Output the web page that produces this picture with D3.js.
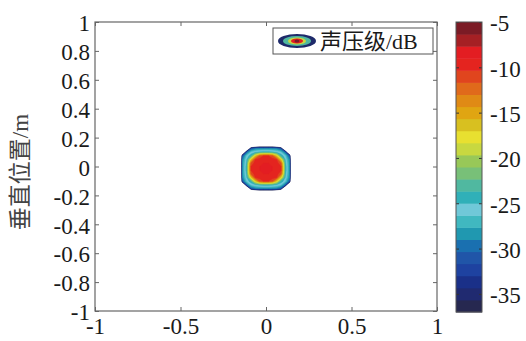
<!DOCTYPE html>
<html>
<head>
<meta charset="utf-8">
<script src="https://cdn.jsdelivr.net/npm/d3@7"></script>
<style>
  body { margin: 0; background: #fff; }
</style>
</head>
<body>
<script>
// sound pressure level (dB), cell centres of a 0.025 m grid around the source
const gridX = [-0.1625, -0.1375, -0.1125, -0.0875, -0.0625, -0.0375, -0.0125,
  0.0125, 0.0375, 0.0625, 0.0875, 0.1125, 0.1375, 0.1625];
const gridY = [0.1625, 0.1375, 0.1125, 0.0875, 0.0625, 0.0375, 0.0125,
  -0.0125, -0.0375, -0.0625, -0.0875, -0.1125, -0.1375, -0.1625];
const splRows = [
  [-70, -70, -70, -52, -47, -45, -45, -45, -45, -47, -52, -70, -70, -70],
  [-70, -70, -48, -31, -29, -28.5, -28.5, -28.5, -28.5, -29, -31, -48, -70, -70],
  [-70, -48, -30, -26, -25, -24.5, -24, -24, -24.5, -25, -26, -30, -48, -70],
  [-70, -31, -26, -24, -17, -11.5, -10.2, -10.2, -11.5, -17, -24, -26, -31, -70],
  [-70, -29, -25, -17, -10.2, -9.7, -9.4, -9.4, -9.7, -10.2, -17, -25, -29, -70],
  [-70, -28.5, -24.5, -11.5, -9.7, -9.2, -9.0, -9.0, -9.2, -9.7, -11.5, -24.5, -28.5, -70],
  [-70, -28.5, -24, -10.2, -9.4, -9.0, -8.8, -8.8, -9.0, -9.4, -10.2, -24, -28.5, -70],
  [-70, -28.5, -24, -10.2, -9.4, -9.0, -8.8, -8.8, -9.0, -9.4, -10.2, -24, -28.5, -70],
  [-70, -28.5, -24.5, -11.5, -9.7, -9.2, -9.0, -9.0, -9.2, -9.7, -11.5, -24.5, -28.5, -70],
  [-70, -29, -25, -17, -10.2, -9.7, -9.4, -9.4, -9.7, -10.2, -17, -25, -29, -70],
  [-70, -31, -26, -24, -17, -11.5, -10.2, -10.2, -11.5, -17, -24, -26, -31, -70],
  [-70, -48, -30, -26, -25, -24.5, -24, -24, -24.5, -25, -26, -30, -48, -70],
  [-70, -70, -48, -31, -29, -28.5, -28.5, -28.5, -28.5, -29, -31, -48, -70, -70],
  [-70, -70, -70, -52, -47, -45, -45, -45, -45, -47, -52, -70, -70, -70]
];
const floorDb = -80; // everything else is below the colour range

const xTicks = [-1, -0.5, 0, 0.5, 1];
const yTicks = [-1, -0.8, -0.6, -0.4, -0.2, 0, 0.2, 0.4, 0.6, 0.8, 1];
const cbTicks = [-35, -30, -25, -20, -15, -10, -5];
const cbDomain = [-37, -5];

// colour bands, low -> high
const bandColors = [
  '#262850', '#202a70', '#1a3088', '#1e42a0', '#2055a8', '#1a70b0',
  '#2098b0', '#40b8c0', '#70c8d8', '#30b0b8', '#50b8a0', '#78c078',
  '#98c858', '#c8d840', '#e8e030', '#d8c020', '#e0a512', '#e08a15',
  '#e06a1b', '#e0451e', '#e4241f', '#e31d22', '#a52024', '#7b1b25'
];

const serif = '"Liberation Serif", "Times New Roman", serif';
const cjk = '"Liberation Serif", "Noto Sans CJK SC", serif';

const W = 526, H = 341;
const plot = { left: 95, right: 437, top: 22, bottom: 311 };
const cbBox = { left: 456, right: 482, top: 22, bottom: 312 };

const svg = d3.select('body').append('svg')
  .attr('width', W)
  .attr('height', H);

const x = d3.scaleLinear().domain([-1, 1]).range([plot.left, plot.right]);
const y = d3.scaleLinear().domain([-1, 1]).range([plot.bottom, plot.top]);

// full grid of cell centres over the plot
const step = 0.025;
const n = 80;
const values = new Array(n * n);
for (let j = 0; j < n; j++) {
  const gy = 1 - step / 2 - j * step;
  const r = gridY.findIndex(v => Math.abs(v - gy) < 1e-6);
  for (let i = 0; i < n; i++) {
    const gx = -1 + step / 2 + i * step;
    const c = gridX.findIndex(v => Math.abs(v - gx) < 1e-6);
    values[j * n + i] = (r >= 0 && c >= 0) ? splRows[r][c] : floorDb;
  }
}

const color = d3.scaleQuantize().domain(cbDomain).range(bandColors);
const thresholds = [cbDomain[0]].concat(color.thresholds());

const contours = d3.contours()
  .size([n, n])
  .thresholds(thresholds)(values);

const gxs = d3.scaleLinear().domain([0, n]).range([x(-1), x(1)]);
const gys = d3.scaleLinear().domain([0, n]).range([y(1), y(-1)]);
const path = d3.geoPath(d3.geoTransform({
  point: function(px, py) { this.stream.point(gxs(px), gys(py)); }
}));

svg.append('clipPath').attr('id', 'clip')
  .append('rect')
  .attr('x', plot.left).attr('y', plot.top)
  .attr('width', plot.right - plot.left)
  .attr('height', plot.bottom - plot.top);

svg.append('g')
  .attr('clip-path', 'url(#clip)')
  .attr('transform', 'translate(0,2)')
  .selectAll('path')
  .data(contours)
  .enter().append('path')
  .attr('d', path)
  .attr('fill', (d, i) => bandColors[i])
  .attr('stroke', (d, i) => bandColors[i])
  .attr('stroke-width', 0.3);

// axes, ticks pointing inward
const axisColor = '#666';
function styleAxis(g) {
  g.attr('font-family', serif).attr('font-size', 23);
  g.select('.domain').remove();
  g.selectAll('.tick line').attr('stroke', axisColor);
  g.selectAll('.tick text').attr('fill', '#1a1a1a');
}

svg.append('g')
  .attr('transform', `translate(0,${plot.bottom})`)
  .call(d3.axisBottom(x).tickValues(xTicks).tickSize(-4).tickPadding(5)
    .tickFormat(d => String(d)))
  .call(styleAxis)
  .selectAll('.tick text').attr('dy', '0.78em');

svg.append('g')
  .attr('transform', `translate(${plot.left},0)`)
  .call(d3.axisLeft(y).tickValues(yTicks).tickSize(-4).tickPadding(5)
    .tickFormat(d => String(d)))
  .call(styleAxis)
  .selectAll('.tick text').attr('dy', '0.38em');

svg.append('g')
  .attr('transform', `translate(0,${plot.top})`)
  .call(d3.axisTop(x).tickValues(xTicks).tickSize(-4).tickFormat(''))
  .call(styleAxis);

svg.append('g')
  .attr('transform', `translate(${plot.right},0)`)
  .call(d3.axisRight(y).tickValues(yTicks).tickSize(-4).tickFormat(''))
  .call(styleAxis);

svg.append('rect')
  .attr('x', plot.left).attr('y', plot.top)
  .attr('width', plot.right - plot.left)
  .attr('height', plot.bottom - plot.top)
  .attr('fill', 'none')
  .attr('stroke', axisColor)
  .attr('stroke-width', 1.2);

// y label
svg.append('text')
  .attr('transform', 'translate(28,172) rotate(-90)')
  .attr('text-anchor', 'middle')
  .attr('font-family', cjk)
  .attr('font-size', 23)
  .attr('fill', '#444')
  .text('垂直位置/m');

// legend
const lg = svg.append('g');
lg.append('rect')
  .attr('x', 273).attr('y', 28)
  .attr('width', 160).attr('height', 26)
  .attr('fill', '#fff')
  .attr('stroke', '#555')
  .attr('stroke-width', 1);
const icon = [[19, 7, '#1e2a6a'], [14, 5, '#50b8a0'], [9, 3.6, '#c8d840'], [6, 2.6, '#e31d22'], [2.5, 1.5, '#7b1b25']];
lg.selectAll('ellipse')
  .data(icon)
  .enter().append('ellipse')
  .attr('cx', 297).attr('cy', 41)
  .attr('rx', d => d[0]).attr('ry', d => d[1])
  .attr('fill', d => d[2]);
lg.append('text')
  .attr('x', 320).attr('y', 49)
  .attr('font-family', cjk)
  .attr('font-size', 22)
  .attr('fill', '#1a1a1a')
  .text('声压级/dB');

// colour bar
const cb = d3.scaleLinear().domain(cbDomain).range([cbBox.bottom, cbBox.top]);
const bands = thresholds.map((t, i) => [t, i + 1 < thresholds.length ? thresholds[i + 1] : cbDomain[1]]);
svg.append('g')
  .selectAll('rect')
  .data(bands)
  .enter().append('rect')
  .attr('x', cbBox.left)
  .attr('y', d => cb(d[1]))
  .attr('width', cbBox.right - cbBox.left)
  .attr('height', d => cb(d[0]) - cb(d[1]) + 0.5)
  .attr('fill', (d, i) => bandColors[i]);

svg.append('g')
  .attr('transform', `translate(${cbBox.right},0)`)
  .call(d3.axisRight(cb).tickValues(cbTicks).tickSize(-3).tickPadding(8)
    .tickFormat(d => String(d)))
  .call(styleAxis)
  .call(g => g.selectAll('.tick line').attr('stroke', '#333'))
  .selectAll('.tick text').attr('dy', '0.38em');

svg.append('g')
  .attr('transform', `translate(${cbBox.left},0)`)
  .call(d3.axisLeft(cb).tickValues(cbTicks).tickSize(-3).tickFormat(''))
  .call(styleAxis)
  .call(g => g.selectAll('.tick line').attr('stroke', '#333'));

svg.append('rect')
  .attr('x', cbBox.left).attr('y', cbBox.top)
  .attr('width', cbBox.right - cbBox.left)
  .attr('height', cbBox.bottom - cbBox.top)
  .attr('fill', 'none')
  .attr('stroke', '#555')
  .attr('stroke-width', 1);
</script>
</body>
</html>
